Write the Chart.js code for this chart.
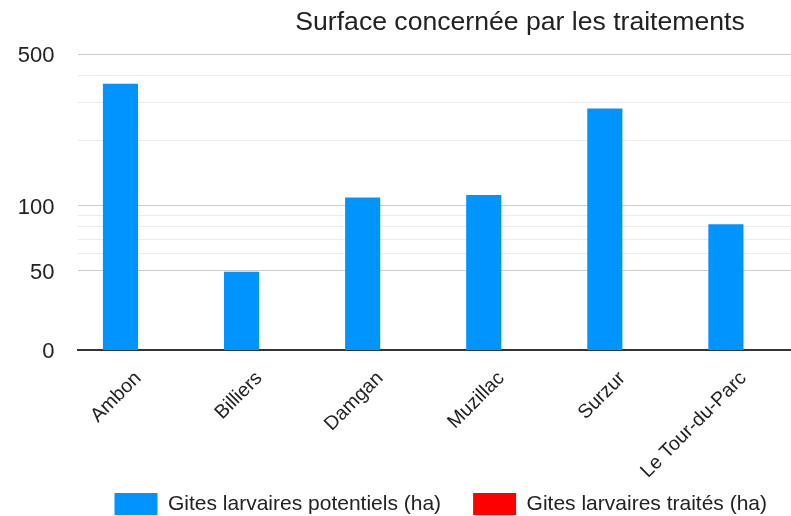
<!DOCTYPE html>
<html>
<head>
<meta charset="utf-8">
<script src="https://cdn.jsdelivr.net/npm/chart.js@4"></script>
<style>
  body { margin: 0; background: #fff; overflow: hidden; }
  #wrap { width: 791px; height: 516px; overflow: hidden; }
</style>
</head>
<body>
<div id="wrap"><canvas id="surfaceChart" width="804" height="516"></canvas></div>
<script>
const communes = ['Ambon', 'Billiers', 'Damgan', 'Muzillac', 'Surzur', 'Le Tour-du-Parc'];
const gitesPotentiels = [365, 49.5, 109, 112, 280, 82];
const gitesTraites = [0, 0, 0, 0, 0, 0];
const yMin = 21.6;
const yMax = 500;
const yLabelTicks = [50, 100, 500];
const yMinorTicks = [60, 70, 80, 90, 200, 300, 400];

const fontFamily = 'Arial, "Liberation Sans", sans-serif';

/* titre dessiné à la main, décalé comme dans Sheets */
const titlePlugin = {
  id: 'sheetTitle',
  afterDraw(chart) {
    const ctx = chart.ctx;
    ctx.save();
    ctx.font = '26.6px ' + fontFamily;
    ctx.fillStyle = '#222';
    ctx.textAlign = 'center';
    ctx.textBaseline = 'alphabetic';
    ctx.fillText('Surface concernée par les traitements', 520, 30);
    ctx.restore();
  }
};

new Chart(document.getElementById('surfaceChart'), {
  type: 'bar',
  data: {
    labels: communes,
    datasets: [
      {
        label: 'Gites larvaires potentiels (ha)',
        data: gitesPotentiels,
        backgroundColor: '#0094ff',
        barPercentage: 1,
        categoryPercentage: 0.58
      },
      {
        label: 'Gites larvaires traités (ha)',
        data: gitesTraites,
        backgroundColor: '#ff0000',
        barPercentage: 1,
        categoryPercentage: 0.58
      }
    ]
  },
  options: {
    responsive: false,
    animation: false,
    layout: {
      padding: { top: 54, right: 0, left: 0, bottom: 0 }
    },
    plugins: {
      title: { display: false },
      tooltip: { enabled: false },
      legend: {
        position: 'bottom',
        align: 'center',
        fullSize: false,
        maxHeight: 55,
        labels: {
          boxWidth: 43,
          boxHeight: 22,
          padding: 32,
          color: '#222',
          font: { size: 21, family: fontFamily }
        }
      }
    },
    scales: {
      x: {
        grid: { display: false },
        border: { display: true, color: '#333333', width: 2 },
        ticks: {
          color: '#222',
          font: { size: 19.6, family: fontFamily },
          minRotation: 45,
          maxRotation: 45,
          padding: 9,
          autoSkip: false
        },
        afterFit: scale => {
          scale.height = 111;
          // les libellés longs débordent sur la légende, comme dans l'original
          scale._computeLabelArea = () => undefined;
        }
      },
      y: {
        type: 'logarithmic',
        min: yMin,
        max: yMax,
        border: { display: false },
        grid: {
          drawTicks: false,
          lineWidth: 1,
          color: c => {
            const v = c.tick.value;
            if (v === yMin) return 'rgba(0,0,0,0)';
            return yLabelTicks.includes(v) ? '#cccccc' : '#ebebeb';
          }
        },
        afterBuildTicks: scale => {
          const vals = [yMin].concat(yLabelTicks, yMinorTicks).sort((a, b) => a - b);
          scale.ticks = vals.map(v => ({ value: v }));
        },
        ticks: {
          autoSkip: false,
          padding: 23,
          labelOffset: 2,
          color: '#222',
          font: { size: 22, family: fontFamily },
          callback: value => {
            if (value === yMin) return '0';
            return yLabelTicks.includes(value) ? String(value) : '';
          }
        },
        afterFit: scale => { scale.width = 77.5; }
      }
    }
  },
  plugins: [titlePlugin]
});
</script>
</body>
</html>
